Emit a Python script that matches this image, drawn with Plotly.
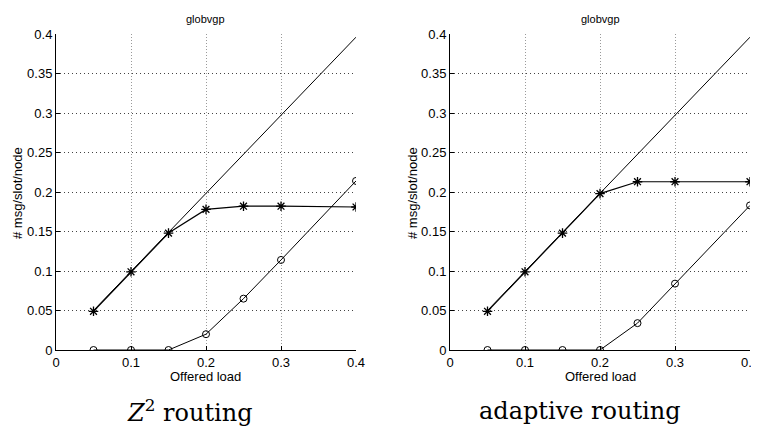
import plotly.graph_objects as go

x_load = [0.05, 0.1, 0.15, 0.2, 0.25, 0.3, 0.4]
ideal_x = [0.05, 0.4]
ideal_y = [0.05, 0.396]

z2_accepted = [0.049, 0.099, 0.148, 0.178, 0.182, 0.182, 0.181]
z2_dropped = [0.0, 0.0, 0.0, 0.02, 0.065, 0.114, 0.214]

ad_accepted = [0.049, 0.099, 0.148, 0.198, 0.213, 0.213, 0.213]
ad_dropped = [0.0, 0.0, 0.0, 0.0, 0.034, 0.084, 0.183]

xticks = [0, 0.1, 0.2, 0.3, 0.4]
xticklabels = ["0", "0.1", "0.2", "0.3", "0.4"]
yticks = [0, 0.05, 0.1, 0.15, 0.2, 0.25, 0.3, 0.35, 0.4]
yticklabels = ["0", "0.05", "0.1", "0.15", "0.2", "0.25", "0.3", "0.35", "0.4"]

panel_title = "globvgp"
x_title = "Offered load"
y_title = "# msg/slot/node"
captions = ["<i>Z</i><sup>2</sup> routing", "adaptive routing"]

# page has an 8px body margin; figure reaches past the window's right/bottom edges
W, H, OFF = 760, 418, 8


def px(x):
    return (x - OFF) / W


def py(y):
    return 1 - (y - OFF) / H


fig = go.Figure()
panels = [(z2_accepted, z2_dropped, "x", "y"), (ad_accepted, ad_dropped, "x2", "y2")]
for acc, drop, xa, ya in panels:
    fig.add_trace(go.Scatter(x=ideal_x, y=ideal_y, mode="lines",
                             line=dict(color="black", width=1), xaxis=xa, yaxis=ya, showlegend=False))
    fig.add_trace(go.Scatter(x=x_load, y=acc, mode="lines+markers",
                             line=dict(color="black", width=1.2),
                             marker=dict(symbol="asterisk-open", size=8, color="black",
                                         line=dict(color="black", width=1.3)),
                             xaxis=xa, yaxis=ya, showlegend=False))
    fig.add_trace(go.Scatter(x=x_load, y=drop, mode="lines+markers",
                             line=dict(color="black", width=1),
                             marker=dict(symbol="circle-open", size=7, color="black",
                                         line=dict(color="black", width=1)),
                             xaxis=xa, yaxis=ya, showlegend=False))

tickfont = dict(family="Liberation Sans, Arial", size=13, color="black")
xcommon = dict(range=[0, 0.4], tickvals=xticks, ticktext=xticklabels, automargin=False,
               showline=True, linecolor="black", linewidth=1, ticks="inside", ticklen=4,
               tickcolor="black", showgrid=True, gridcolor="#9a9a9a", griddash="1px,2px",
               gridwidth=1, zeroline=False, tickfont=tickfont, mirror=False,
               ticklabeloverflow="allow")
ycommon = dict(range=[0, 0.4], tickvals=yticks, ticktext=yticklabels, automargin=False,
               showline=True, linecolor="black", linewidth=1, ticks="inside", ticklen=4,
               tickcolor="black", showgrid=True, gridcolor="#444444", griddash="1px,3px",
               gridwidth=1, zeroline=False, tickfont=tickfont, mirror=False)

fig.update_layout(
    width=W, height=H,
    margin=dict(l=0, r=0, t=0, b=0, pad=0, autoexpand=False),
    plot_bgcolor="white", paper_bgcolor="white",
    xaxis=dict(domain=[px(56), px(356)], anchor="y", **xcommon),
    yaxis=dict(domain=[py(350), py(34)], anchor="x", **ycommon),
    xaxis2=dict(domain=[px(450), px(750)], anchor="y2", **xcommon),
    yaxis2=dict(domain=[py(350), py(34)], anchor="x2", **ycommon),
)

ann = []
for cx, yx in [(206, 18), (600, 413)]:
    ann.append(dict(text=panel_title, x=px(cx), y=py(19), xref="paper", yref="paper",
                    showarrow=False, xanchor="center", yanchor="middle",
                    font=dict(family="Liberation Sans, Arial", size=11, color="black")))
    ann.append(dict(text=x_title, x=px(cx), y=py(376), xref="paper", yref="paper",
                    showarrow=False, xanchor="center", yanchor="middle",
                    font=dict(family="Liberation Sans, Arial", size=13, color="black")))
    ann.append(dict(text=y_title, x=px(yx), y=py(193), xref="paper", yref="paper",
                    showarrow=False, textangle=-90, xanchor="center", yanchor="middle",
                    font=dict(family="Liberation Sans, Arial", size=13, color="black")))
for cap, cx in zip(captions, [190, 580]):
    ann.append(dict(text=cap, x=px(cx), y=py(411), xref="paper", yref="paper",
                    showarrow=False, xanchor="center", yanchor="middle",
                    font=dict(family="DejaVu Serif, Liberation Serif", size=24, color="black")))
fig.update_layout(annotations=ann)

fig.write_html("out.html")
